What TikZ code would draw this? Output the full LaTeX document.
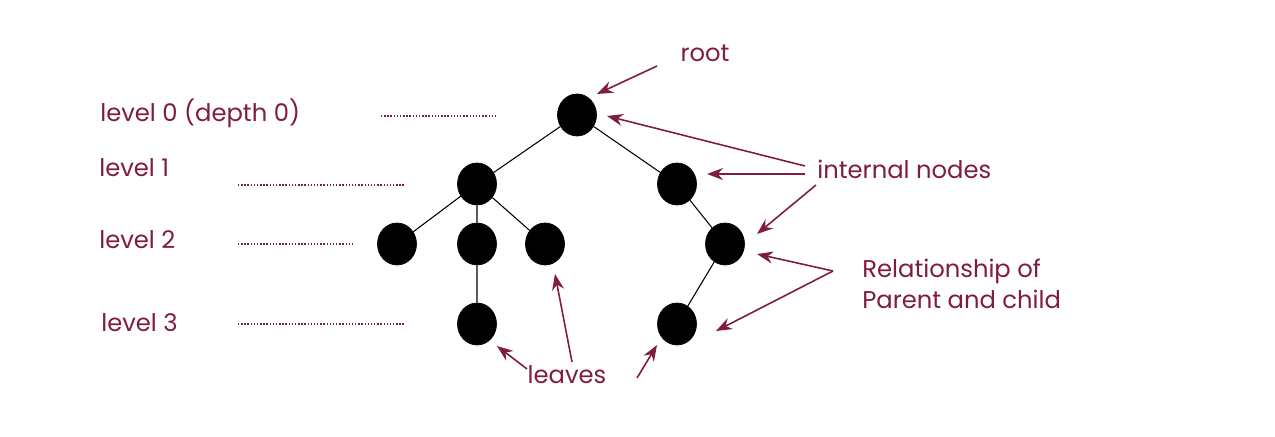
\documentclass[tikz,border=0pt]{standalone}
\usepackage{fontspec}
\setmainfont{Poppins}
\usepackage{tikz}
\usetikzlibrary{arrows.meta,shapes.geometric}
\definecolor{maroon}{RGB}{128,28,60}

\begin{document}
\begin{tikzpicture}[x=0.2mm, y=-0.2mm,
    treenode/.style={ellipse, fill=black, draw=black, minimum width=7.8mm, minimum height=8.4mm, inner sep=0pt},
    lbl/.style={text=maroon, font=\fontsize{13.8}{16}\selectfont, inner sep=0pt},
    pointer/.style={draw=maroon, line width=0.9pt, -{Stealth[length=3.2mm, width=2.4mm]}},
    levelline/.style={draw=maroon, line width=1.5pt, dash pattern=on 0.8pt off 1pt}]
  \useasboundingbox (0,0) rectangle (1275,437);

  % tree
  \node[treenode] (r) at (577,115) {};
  \node[treenode] (a) at (477,184) {};
  \node[treenode] (b) at (677,184) {};
  \node[treenode] (c) at (397,244) {};
  \node[treenode] (d) at (477,244) {};
  \node[treenode] (e) at (545,244) {};
  \node[treenode] (f) at (725,244) {};
  \node[treenode] (g) at (477,324) {};
  \node[treenode] (h) at (677,324) {};
  \draw[line width=0.6pt] (r) -- (a) (r) -- (b) (a) -- (c) (a) -- (d) (a) -- (e)
    (b) -- (f) (d) -- (g) (f) -- (h);

  % levels
  \node[lbl, anchor=west] (l0) at (100,113) {level 0 (depth 0)};
  \node[lbl, anchor=west] (l1) at (99,168) {level 1};
  \node[lbl, anchor=west] (l2) at (99,240) {level 2};
  \node[lbl, anchor=west] (l3) at (101,323) {level 3};
  \coordinate (d0a) at (381,116); \coordinate (d0b) at (497,116);
  \coordinate (d1a) at (238,185); \coordinate (d1b) at (404,185);
  \coordinate (d2a) at (238,244); \coordinate (d2b) at (355,244);
  \coordinate (d3a) at (238,324); \coordinate (d3b) at (404,324);
  \draw[levelline] (d0a) -- (d0b);
  \draw[levelline] (d1a) -- (d1b);
  \draw[levelline] (d2a) -- (d2b);
  \draw[levelline] (d3a) -- (d3b);

  % labels
  \node[lbl] (root) at (705,53) {root};
  \node[lbl, anchor=west] (inner) at (817,169) {internal nodes};
  \node[lbl, anchor=west, align=left] (rel) at (862,284) {Relationship of\\[2pt]Parent and child};
  \node[lbl] (leaves) at (567,375) {leaves};

  % pointers
  \coordinate (rt) at (657,66);
  \coordinate (in1) at (805,166);
  \coordinate (in2) at (805,174);
  \coordinate (in3) at (816,185);
  \coordinate (rl) at (833,271);
  \coordinate (lv1) at (527,369);
  \coordinate (lv2) at (572,362);
  \coordinate (lv3) at (637,378);
  \draw[pointer] (rt) -- (597,94);
  \draw[pointer] (in1) -- (607,116);
  \draw[pointer] (in2) -- (707,174);
  \draw[pointer] (in3) -- (757,234);
  \draw[pointer] (rl) -- (757,254);
  \draw[pointer] (rl) -- (716,331);
  \draw[pointer] (lv1) -- (497,346);
  \draw[pointer] (lv2) -- (555,274);
  \draw[pointer] (lv3) -- (657,345);
\end{tikzpicture}
\end{document}
